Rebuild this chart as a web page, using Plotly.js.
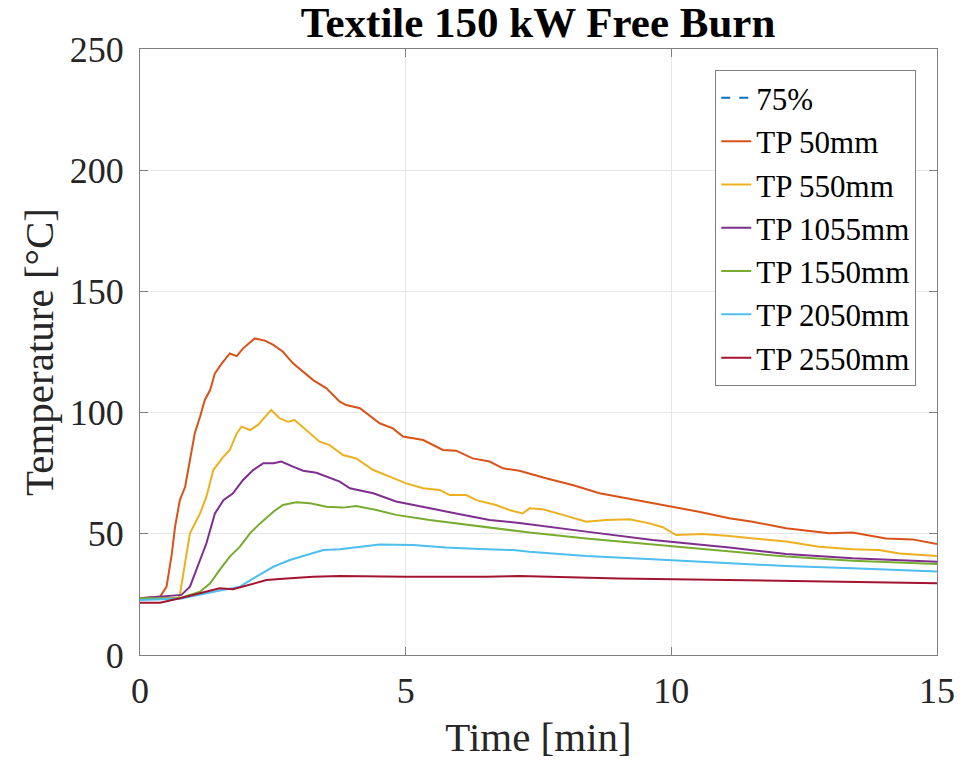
<!DOCTYPE html>
<html>
<head>
<meta charset="utf-8">
<script src="https://cdn.plot.ly/plotly-3.0.1.min.js"></script>
<style>html,body{margin:0;padding:0;background:#fff;}#chart{width:966px;height:767px;}</style>
</head>
<body>
<div id="chart"></div>
<script>
// Series names
const names = ["75%", "TP 50mm", "TP 550mm", "TP 1055mm", "TP 1550mm", "TP 2050mm", "TP 2550mm"];

// 75% reference (listed in the legend, no visible data in the plotted range)
const t75 = [null];
const T75 = [null];

// TP 50mm
const t50 = [0, 0.38, 0.5, 0.6, 0.66, 0.75, 0.85, 0.94, 1.03, 1.13, 1.22, 1.32, 1.41, 1.54, 1.69, 1.82, 1.94, 2.16, 2.35, 2.51, 2.69, 2.88, 3.07, 3.26, 3.51, 3.76, 3.88, 4.14, 4.51, 4.76, 4.95, 5.33, 5.7, 5.95, 6.26, 6.58, 6.83, 7.14, 7.64, 8.14, 8.65, 9.15, 9.65, 10.03, 10.52, 11.09, 11.53, 12.16, 12.78, 12.97, 13.41, 14.04, 14.54, 15];
const T50 = [23.4, 24.1, 28.2, 41.9, 52.9, 63.9, 69.4, 80.4, 91.4, 98.3, 105.2, 109.3, 116.2, 120.3, 124.4, 123.3, 126.5, 130.6, 129.7, 127.9, 125.1, 120.3, 116.9, 113.4, 110, 104.5, 103.1, 101.8, 95.6, 93.5, 90.1, 88.7, 84.6, 84.3, 81.1, 79.8, 77, 76, 72.9, 70.1, 66.7, 64.6, 62.6, 61.2, 59.1, 56.4, 55, 52.3, 50.9, 50.2, 50.5, 48.1, 47.7, 45.8];

// TP 550mm
const t550 = [0, 0.72, 0.75, 0.85, 0.94, 1.13, 1.25, 1.38, 1.57, 1.69, 1.82, 1.91, 2.07, 2.22, 2.35, 2.47, 2.63, 2.79, 2.91, 3.13, 3.38, 3.57, 3.82, 4.07, 4.39, 4.7, 5.01, 5.33, 5.64, 5.83, 6.14, 6.33, 6.7, 6.95, 7.2, 7.33, 7.58, 7.96, 8.4, 8.77, 9.21, 9.59, 9.84, 10.09, 10.59, 11.09, 11.53, 12.16, 12.78, 13.41, 13.91, 14.29, 15];
const T550 = [23.4, 23.4, 24.8, 39.2, 50.2, 58.4, 65.3, 76.3, 81.8, 84.6, 91.4, 94.2, 92.8, 94.9, 98.3, 101.1, 97.6, 96.2, 96.9, 92.8, 88, 86.6, 82.5, 81.1, 76.3, 73.6, 70.8, 68.8, 68.1, 66, 66, 63.9, 61.9, 59.8, 58.4, 60.5, 60.1, 57.8, 55, 55.7, 56, 54.3, 52.7, 49.5, 49.9, 49.1, 48.1, 46.8, 44.7, 43.6, 43.3, 41.9, 40.8];

// TP 1055mm
const t1055 = [0, 0.78, 0.94, 1.1, 1.25, 1.41, 1.57, 1.75, 1.94, 2.13, 2.32, 2.51, 2.66, 2.88, 3.07, 3.32, 3.51, 3.76, 3.95, 4.39, 4.82, 5.33, 5.95, 6.58, 7.14, 8.4, 9.65, 11.09, 12.16, 13.41, 15];
const T1055 = [23.4, 24.8, 28.2, 37.8, 46.1, 58.4, 63.9, 66.7, 72.2, 76.3, 79.1, 79.1, 79.8, 77.7, 76, 75.2, 73.6, 71.5, 68.8, 66.7, 63.3, 61.2, 58.4, 55.7, 54.5, 50.9, 47.4, 44.3, 41.7, 39.9, 38.5];

// TP 1550mm
const t1550 = [0, 0.75, 1.13, 1.32, 1.5, 1.69, 1.88, 2.07, 2.26, 2.51, 2.69, 2.94, 3.2, 3.51, 3.82, 4.07, 4.45, 4.82, 5.45, 6.2, 6.83, 7.33, 8.4, 9.65, 11.09, 12.16, 13.41, 15];
const T1550 = [23.4, 23.4, 26.1, 29.6, 35.1, 40.6, 44.7, 50.2, 54.3, 59.1, 61.9, 63, 62.6, 61.2, 60.8, 61.5, 59.8, 57.8, 55.7, 53.6, 51.8, 50.5, 48.1, 45.6, 42.6, 40.6, 38.9, 37.5];

// TP 2050mm
const t2050 = [0, 0.75, 1.25, 1.57, 1.88, 2.19, 2.51, 2.82, 3.13, 3.45, 3.76, 4.51, 5.14, 5.76, 6.39, 7.02, 7.33, 8.4, 9.65, 11.09, 12.16, 13.41, 15];
const T2050 = [22.7, 23.2, 25.5, 26.8, 28.2, 32.3, 36.4, 39.2, 41.3, 43.3, 43.6, 45.6, 45.4, 44.3, 43.7, 43.3, 42.6, 40.8, 39.5, 37.8, 36.7, 35.8, 34.4];

// TP 2550mm
const t2550 = [0, 0.38, 0.75, 1.25, 1.5, 1.75, 2.07, 2.38, 2.76, 3.26, 3.76, 5.0, 6.5, 7.14, 9.02, 11.09, 12.78, 15];
const T2550 = [21.6, 21.6, 23.4, 26.1, 27.5, 27.1, 28.9, 30.9, 31.6, 32.3, 32.6, 32.3, 32.3, 32.6, 31.6, 30.9, 30.2, 29.6];

const colors = ["#0072BD", "#D95319", "#EDB120", "#7E2F8E", "#77AC30", "#4DBEEE", "#A2142F"];
const xs = [t75, t50, t550, t1055, t1550, t2050, t2550];
const ys = [T75, T50, T550, T1055, T1550, T2050, T2550];

const traces = names.map((n, i) => ({
  x: xs[i], y: ys[i], name: n, type: "scatter", mode: "lines",
  line: {color: colors[i], width: 2, dash: i === 0 ? "dash" : "solid"}
}));

const font = "Liberation Serif, Times New Roman, serif";
const layout = {
  width: 966, height: 767,
  margin: {l: 140, r: 29, t: 49, b: 112},
  paper_bgcolor: "#fff", plot_bgcolor: "#fff",
  font: {family: font, color: "#262626", size: 36},
  title: {text: "<b>Textile 150 kW Free Burn</b>", font: {family: font, size: 43, color: "#000"},
          x: 0.557, xanchor: "center", y: 0.972, yanchor: "middle", yref: "container"},
  xaxis: {range: [0, 15], tickvals: [0, 5, 10, 15], ticktext: ["0", "5", "10", "15"],
          showline: true, linecolor: "#808080", linewidth: 1, mirror: "ticks",
          ticks: "inside", ticklen: 8, tickcolor: "#808080",
          showgrid: true, gridcolor: "#e6e6e6", zeroline: false,
          tickfont: {size: 36}, ticklabelstandoff: 4,
          title: {text: "Time [min]", font: {size: 41}, standoff: 12}},
  yaxis: {range: [0, 250], tickvals: [0, 50, 100, 150, 200, 250],
          showline: true, linecolor: "#808080", linewidth: 1, mirror: "ticks",
          ticks: "inside", ticklen: 8, tickcolor: "#808080",
          showgrid: true, gridcolor: "#e6e6e6", zeroline: false,
          tickfont: {size: 36}, ticklabelstandoff: 8,
          title: {text: "Temperature [°C]", font: {size: 41}, standoff: 3}},
  legend: {x: 0.974, xanchor: "right", y: 0.965, yanchor: "top",
           bgcolor: "#fff", bordercolor: "#808080", borderwidth: 1,
           font: {size: 31, color: "#000"}, tracegroupgap: 0, itemwidth: 30},
  showlegend: true
};

Plotly.newPlot("chart", traces, layout, {staticPlot: true});
</script>
</body>
</html>
